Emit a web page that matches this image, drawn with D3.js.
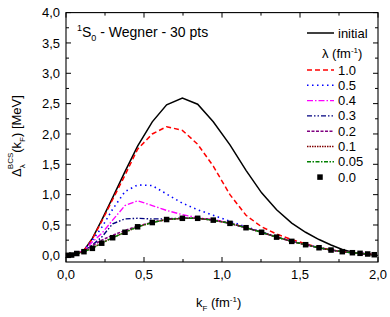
<!DOCTYPE html>
<html>
<head>
<meta charset="utf-8">
<script src="https://cdn.jsdelivr.net/npm/d3@7"></script>
<style>
  body { margin: 0; background: #fff; }
  svg { font-family: "Liberation Sans", Arial, sans-serif; }
</style>
</head>
<body>
<div id="chart"></div>
<script>
// k_F mesh points (fm^-1)
var kF = [0.015, 0.036, 0.069, 0.115, 0.169, 0.229, 0.299, 0.378, 0.459, 0.553, 0.645, 0.746, 0.844,
          0.944, 1.051, 1.154, 1.254, 1.35, 1.447, 1.536, 1.622, 1.699, 1.771, 1.836, 1.885, 1.934, 1.976]

// gap values in MeV, one array per lambda
var initial = [0.0, 0.01, 0.03, 0.08, 0.28, 0.58, 0.95, 1.38, 1.80, 2.20, 2.48, 2.59, 2.49,
               2.20, 1.82, 1.40, 1.03, 0.75, 0.53, 0.38, 0.26, 0.17, 0.095, 0.05, 0.028, 0.015, 0.005]
var lam10 = [0.0, 0.01, 0.03, 0.08, 0.27, 0.56, 0.92, 1.32, 1.75, 2.00, 2.12, 2.06, 1.83,
             1.47, 1.00, 0.66, 0.47, 0.35, 0.26, 0.19, 0.13, 0.09, 0.06, 0.045, 0.033, 0.022, 0.01]
var lam05 = [0.0, 0.005, 0.03, 0.08, 0.25, 0.46, 0.76, 1.05, 1.16, 1.15, 1.01, 0.86, 0.75,
             0.66, 0.56, 0.47, 0.385, 0.305, 0.235, 0.178, 0.127, 0.088, 0.06, 0.043, 0.033, 0.022, 0.01]
var lam04 = [0.0, 0.005, 0.03, 0.08, 0.22, 0.36, 0.58, 0.82, 0.90, 0.82, 0.74, 0.67, 0.62,
             0.59, 0.53, 0.457, 0.382, 0.30, 0.23, 0.175, 0.125, 0.087, 0.06, 0.043, 0.033, 0.022, 0.01]
var lam03 = [0.0, 0.005, 0.03, 0.07, 0.17, 0.30, 0.52, 0.60, 0.61, 0.60, 0.60, 0.615, 0.612,
             0.58, 0.527, 0.455, 0.38, 0.30, 0.23, 0.175, 0.125, 0.087, 0.06, 0.043, 0.033, 0.022, 0.01]
var lam02 = [0.0, 0.005, 0.03, 0.07, 0.16, 0.25, 0.33, 0.41, 0.48, 0.545, 0.59, 0.61, 0.61,
             0.58, 0.527, 0.455, 0.38, 0.30, 0.23, 0.175, 0.125, 0.087, 0.06, 0.043, 0.033, 0.022, 0.01]
var lam01 = [0.0, 0.005, 0.03, 0.06, 0.12, 0.205, 0.29, 0.38, 0.47, 0.54, 0.59, 0.61, 0.61,
             0.58, 0.527, 0.455, 0.38, 0.30, 0.23, 0.175, 0.125, 0.087, 0.06, 0.043, 0.033, 0.022, 0.01]
var lam005 = [0.0, 0.005, 0.03, 0.06, 0.115, 0.20, 0.29, 0.38, 0.47, 0.54, 0.59, 0.61, 0.61,
              0.58, 0.527, 0.455, 0.38, 0.30, 0.23, 0.175, 0.125, 0.087, 0.06, 0.043, 0.033, 0.022, 0.01]
var lam00 = [0.0, 0.005, 0.03, 0.06, 0.115, 0.20, 0.29, 0.38, 0.47, 0.54, 0.59, 0.61, 0.61,
             0.58, 0.527, 0.455, 0.38, 0.30, 0.23, 0.175, 0.125, 0.087, 0.06, 0.043, 0.033, 0.022, 0.01]

var lambdaLabels = ["1.0", "0.5", "0.4", "0.3", "0.2", "0.1", "0.05"]
var xTicks = [0, 0.5, 1.0, 1.5, 2.0]
var yTicks = [0, 0.5, 1.0, 1.5, 2.0, 2.5, 3.0, 3.5, 4.0]

var svg = d3.select("#chart").append("svg")
  .attr("width", 390)
  .attr("height", 317)

var x = d3.scaleLinear().domain([0, 2]).range([66, 378])
var y = d3.scaleLinear().domain([-0.11, 4]).range([262, 12.6])

// series styles
var series = [
  {data: lam10,  color: "#ff0000", dash: "5,3",             width: 1.5},
  {data: lam05,  color: "#0000ff", dash: "1.5,3.5",         width: 1.6},
  {data: lam04,  color: "#ff00ff", dash: "6,2,1.5,2",       width: 1.4},
  {data: lam03,  color: "#000080", dash: "5,2,1.5,2,1.5,2", width: 1.4},
  {data: lam02,  color: "#800080", dash: "3,1.5",           width: 1.5},
  {data: lam01,  color: "#800000", dash: "1.5,1",           width: 1.5},
  {data: lam005, color: "#008000", dash: "4,1.5,1.5,1.5",   width: 1.4}
]

var line = d3.line()
  .x(function(d, i) { return x(kF[i]) })
  .y(function(d) { return y(d) })

svg.append("path")
  .attr("d", line(initial))
  .style("fill", "none")
  .style("stroke", "#000")
  .style("stroke-width", 1.5)

for (var i = 0; i < series.length; i++) {
  svg.append("path")
    .attr("d", line(series[i].data))
    .style("fill", "none")
    .style("stroke", series[i].color)
    .style("stroke-width", series[i].width)
    .style("stroke-dasharray", series[i].dash)
}

svg.selectAll("rect.sq").data(lam00).enter().append("rect")
  .attr("class", "sq")
  .attr("x", function(d, i) { return x(kF[i]) - 2.75 })
  .attr("y", function(d) { return y(d) - 2.75 })
  .attr("width", 5.5)
  .attr("height", 5.5)
  .style("fill", "#000")

// frame
svg.append("rect")
  .attr("x", x(0)).attr("y", y(4))
  .attr("width", x(2) - x(0)).attr("height", y(-0.11) - y(4))
  .style("fill", "none").style("stroke", "#000").style("stroke-width", 1.1)

// inward ticks on all four sides
var fmt = function(v) { return d3.format(".1f")(v).replace(".", ",") }
var xAll = d3.range(0, 2.001, 0.25)
var yAll = d3.range(0, 4.001, 0.25)

xAll.forEach(function(v) {
  var len = (Math.round(v * 4) % 2 == 0) ? 5 : 3
  svg.append("line").attr("x1", x(v)).attr("x2", x(v))
    .attr("y1", y(-0.11)).attr("y2", y(-0.11) - len).style("stroke", "#000")
  svg.append("line").attr("x1", x(v)).attr("x2", x(v))
    .attr("y1", y(4)).attr("y2", y(4) + len).style("stroke", "#000")
})
yAll.forEach(function(v) {
  var len = (Math.round(v * 4) % 2 == 0) ? 5 : 3
  svg.append("line").attr("x1", x(0)).attr("x2", x(0) + len)
    .attr("y1", y(v)).attr("y2", y(v)).style("stroke", "#000")
  svg.append("line").attr("x1", x(2)).attr("x2", x(2) - len)
    .attr("y1", y(v)).attr("y2", y(v)).style("stroke", "#000")
})

xTicks.forEach(function(v) {
  svg.append("text")
    .attr("x", x(v)).attr("y", 279)
    .attr("text-anchor", "middle")
    .style("font-size", "13px")
    .text(fmt(v))
})
yTicks.forEach(function(v) {
  svg.append("text")
    .attr("x", 60).attr("y", y(v) + 4.7)
    .attr("text-anchor", "end")
    .style("font-size", "13px")
    .text(fmt(v))
})

// title
var title = svg.append("text").attr("x", 77).attr("y", 37).style("font-size", "14px")
title.append("tspan").attr("dy", -6).style("font-size", "9px").text("1")
title.append("tspan").attr("dy", 6).text("S")
title.append("tspan").attr("dy", 4).style("font-size", "9px").text("0")
title.append("tspan").attr("dy", -4).text(" - Wegner - 30 pts")

// axis titles
var xl = svg.append("text").attr("x", 196).attr("y", 307).style("font-size", "13px")
xl.append("tspan").text("k")
xl.append("tspan").attr("dy", 4).style("font-size", "8px").text("F")
xl.append("tspan").attr("dy", -4).text(" (fm")
xl.append("tspan").attr("dy", -5).style("font-size", "8px").text("-1")
xl.append("tspan").attr("dy", 5).text(")")

var yl = svg.append("text")
  .attr("transform", "translate(21,136) rotate(-90)")
  .attr("text-anchor", "middle")
  .style("font-size", "13px")
yl.append("tspan").text("\u0394")
yl.append("tspan").attr("dy", 4).style("font-size", "8px").text("\u03bb")
yl.append("tspan").attr("dx", -5).attr("dy", -12).style("font-size", "8px").text("BCS")
yl.append("tspan").attr("dy", 8).text("(k")
yl.append("tspan").attr("dy", 4).style("font-size", "8px").text("F")
yl.append("tspan").attr("dy", -4).text(") [MeV]")

// legend
var lx1 = 307, lx2 = 334, tx = 338
svg.append("line").attr("x1", lx1).attr("x2", lx2).attr("y1", 33).attr("y2", 33)
  .style("stroke", "#000").style("stroke-width", 1.5)
svg.append("text").attr("x", tx).attr("y", 37.5).style("font-size", "13px").text("initial")

var lh = svg.append("text").attr("x", 322).attr("y", 57.5).style("font-size", "13px")
lh.append("tspan").text("\u03bb (fm")
lh.append("tspan").attr("dy", -5).style("font-size", "8px").text("-1")
lh.append("tspan").attr("dy", 5).text(")")

for (var j = 0; j < series.length; j++) {
  var ly = 70 + j * 15.3
  svg.append("line").attr("x1", lx1).attr("x2", lx2).attr("y1", ly).attr("y2", ly)
    .style("stroke", series[j].color)
    .style("stroke-width", series[j].width)
    .style("stroke-dasharray", series[j].dash)
  svg.append("text").attr("x", tx).attr("y", ly + 4.5).style("font-size", "13px").text(lambdaLabels[j])
}
var sqy = 70 + 7 * 15.3
svg.append("rect").attr("x", 320 - 2.75).attr("y", sqy - 2.75).attr("width", 5.5).attr("height", 5.5)
  .style("fill", "#000")
svg.append("text").attr("x", tx).attr("y", sqy + 4.5).style("font-size", "13px").text("0.0")
</script>
</body>
</html>
